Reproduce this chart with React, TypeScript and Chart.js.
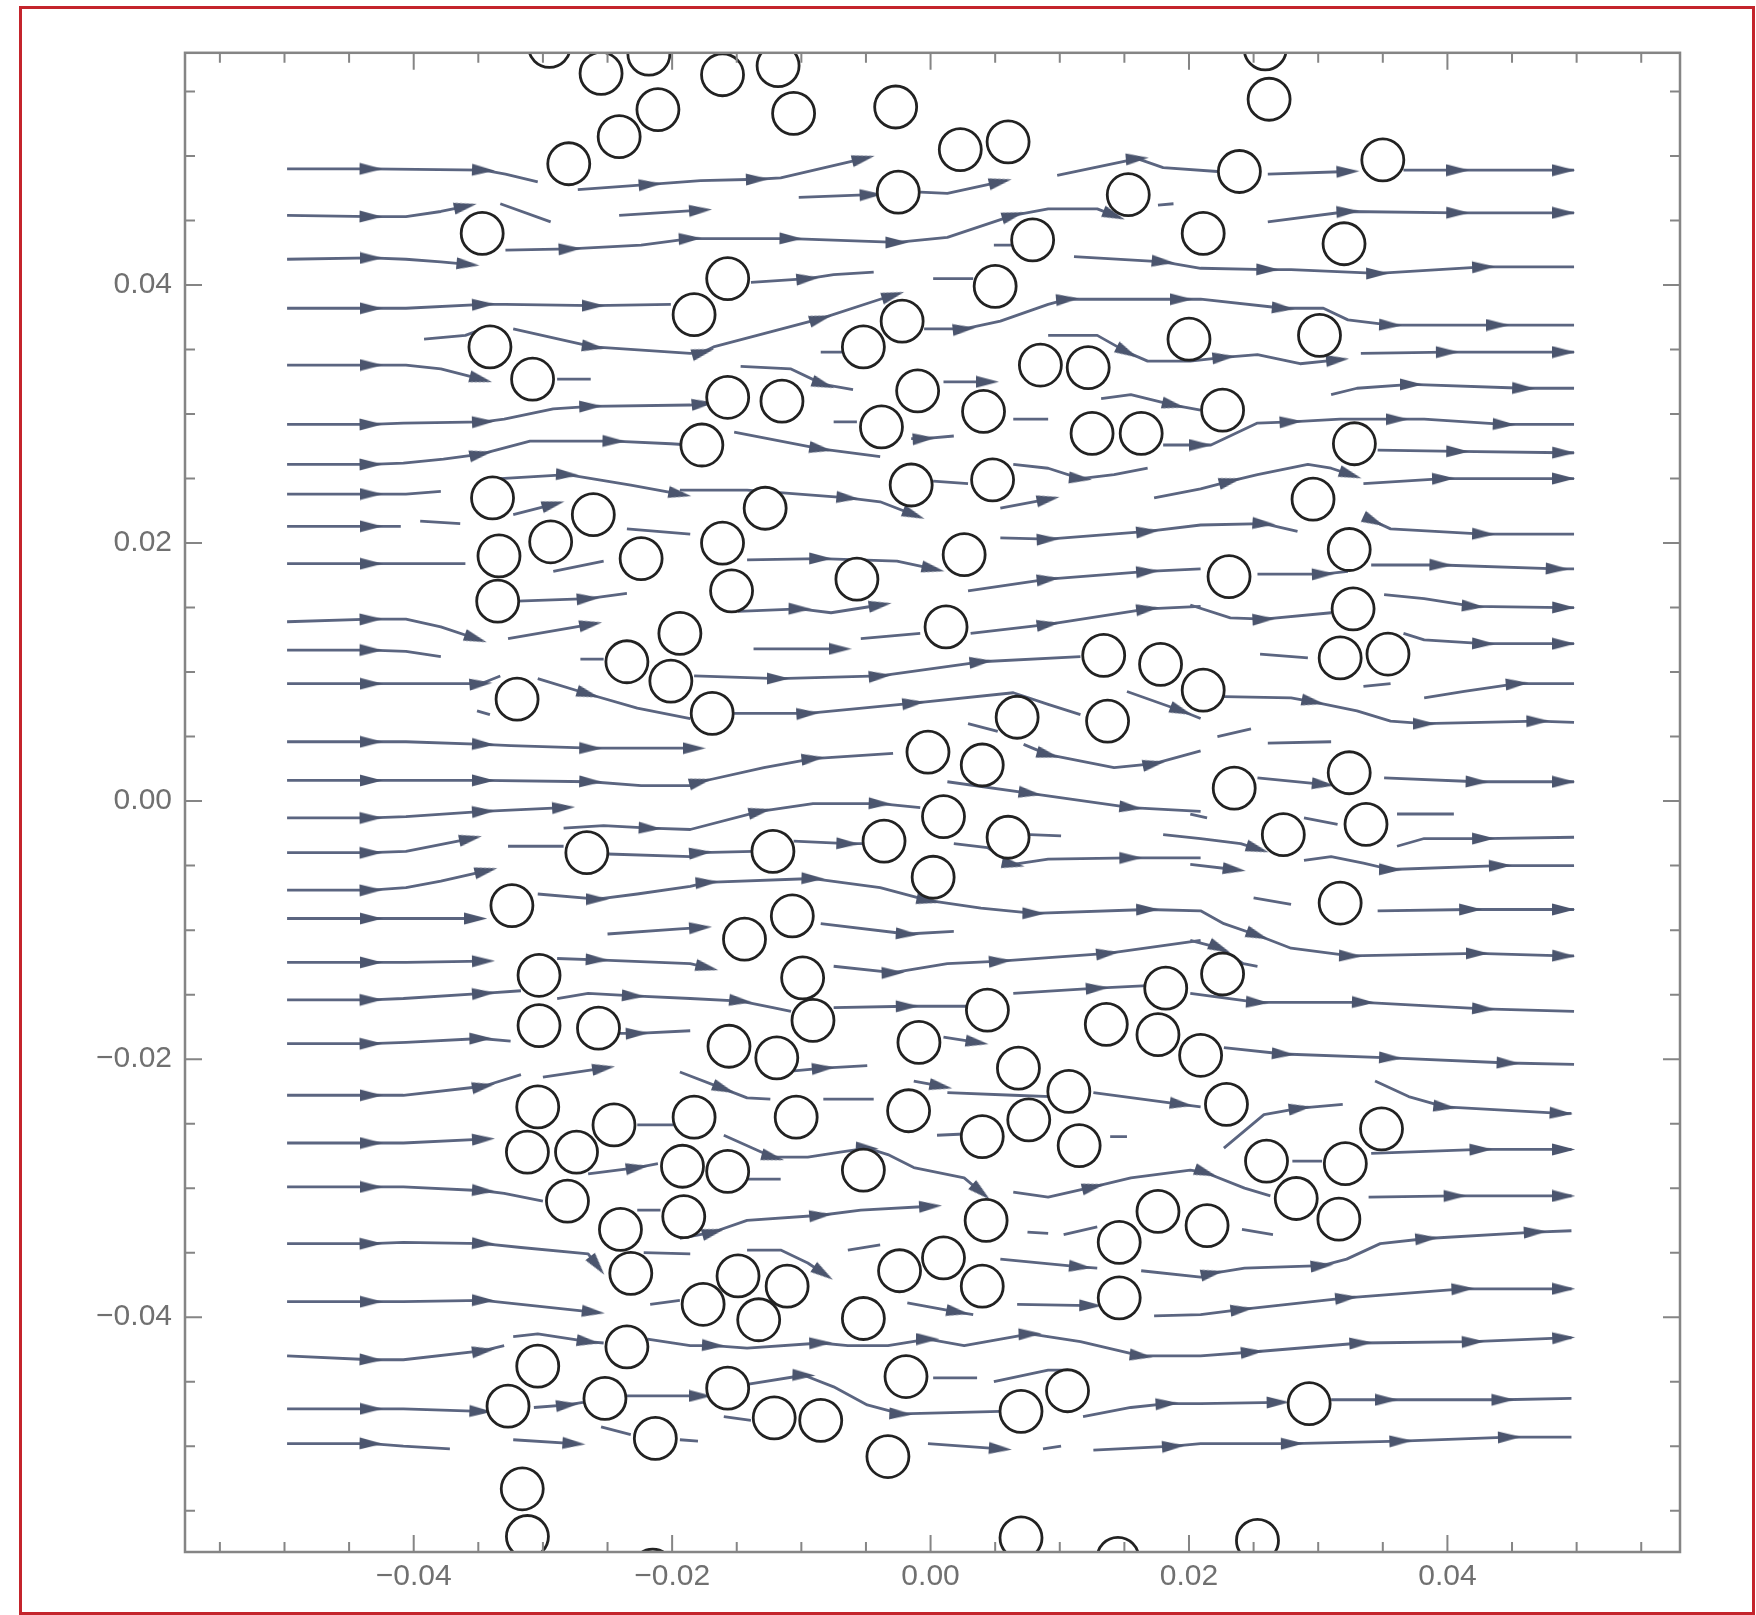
import React, { useEffect, useRef } from 'react';
import { Chart, registerables } from 'chart.js';

Chart.register(...registerables);

// ---- axes ----
const X_MIN = -0.0577;
const X_MAX = 0.058;
const Y_MIN = -0.0582;
const Y_MAX = 0.058;
const TICK_LABELS = [-0.04, -0.02, 0, 0.02, 0.04];
const MINOR_STEP = 0.005;

// ---- particles (circle centres) ----
const PARTICLES: number[][] = [
  [-0.0295, 0.0585], [-0.0255, 0.0564], [-0.0218, 0.0579], [-0.0211, 0.0536], [-0.0241, 0.0515],
  [-0.028, 0.0494], [-0.0347, 0.044], [-0.0341, 0.0352], [-0.0308, 0.0327], [-0.0339, 0.0235],
  [-0.0261, 0.0222], [-0.0294, 0.0201], [-0.0334, 0.019], [-0.0224, 0.0188], [-0.0161, 0.0563],
  [-0.0118, 0.057], [-0.0106, 0.0533], [-0.0027, 0.0538], [0.0023, 0.0505], [0.006, 0.0511],
  [-0.0025, 0.0472], [0.0153, 0.047], [0.0079, 0.0435], [-0.0157, 0.0405], [-0.0183, 0.0377],
  [0.005, 0.0399], [-0.0022, 0.0372], [-0.0052, 0.0352], [0.0085, 0.0338], [0.0122, 0.0336],
  [-0.0157, 0.0313], [-0.0115, 0.031], [-0.001, 0.0318], [-0.0038, 0.029], [0.0041, 0.0302],
  [-0.0177, 0.0276], [0.0125, 0.0285], [0.0163, 0.0285], [-0.0128, 0.0227], [-0.0015, 0.0245],
  [0.0048, 0.0249], [-0.0161, 0.02], [0.0026, 0.0191], [0.0259, 0.0583], [0.0262, 0.0544],
  [0.0239, 0.0488], [0.035, 0.0497], [0.0211, 0.044], [0.032, 0.0432], [0.02, 0.0358],
  [0.0301, 0.0361], [0.0226, 0.0303], [0.0328, 0.0277], [0.0296, 0.0234], [0.0324, 0.0195],
  [0.0231, 0.0174], [-0.0335, 0.0155], [-0.0194, 0.013], [-0.0235, 0.0108], [-0.0201, 0.0093],
  [-0.032, 0.0079], [-0.0266, -0.004], [-0.0324, -0.0081], [-0.0303, -0.0135], [-0.0303, -0.0174],
  [-0.0257, -0.0176], [-0.0154, 0.0163], [-0.0057, 0.0172], [0.0012, 0.0135], [-0.0169, 0.0068],
  [0.0134, 0.0113], [0.0178, 0.0106], [0.0211, 0.0086], [0.0067, 0.0065], [0.0137, 0.0062],
  [-0.0002, 0.0038], [0.004, 0.0028], [0.001, -0.0012], [-0.0036, -0.0031], [0.006, -0.0028],
  [-0.0122, -0.0039], [0.0002, -0.0059], [-0.0107, -0.0089], [-0.0144, -0.0107], [-0.0099, -0.0137],
  [0.0182, -0.0145], [-0.0091, -0.017], [0.0044, -0.0162], [0.0136, -0.0173], [0.0176, -0.0181],
  [-0.0156, -0.019], [-0.0119, -0.0199], [-0.0009, -0.0187], [0.0068, -0.0207], [0.0327, 0.0149],
  [0.0317, 0.0111], [0.0354, 0.0114], [0.0235, 0.001], [0.0324, 0.0022], [0.0337, -0.0018],
  [0.0273, -0.0026], [0.0317, -0.0079], [0.0226, -0.0134], [0.0209, -0.0197], [-0.0304, -0.0237],
  [-0.0312, -0.0272], [-0.0274, -0.0272], [-0.0245, -0.0251], [-0.0281, -0.031], [-0.024, -0.0332],
  [-0.0232, -0.0366], [-0.0235, -0.0423], [-0.0304, -0.0438], [-0.0327, -0.0469], [-0.0252, -0.0463],
  [-0.0213, -0.0494], [-0.0316, -0.0533], [-0.0312, -0.057], [-0.0215, -0.0596], [0.0107, -0.0225],
  [-0.0183, -0.0245], [-0.0104, -0.0245], [-0.0017, -0.024], [0.0076, -0.0247], [0.004, -0.026],
  [0.0115, -0.0267], [-0.0192, -0.0283], [-0.0157, -0.0287], [-0.0052, -0.0286], [-0.0191, -0.0322],
  [0.0043, -0.0325], [0.0176, -0.0318], [0.0146, -0.0342], [-0.0149, -0.0368], [-0.0111, -0.0376],
  [-0.0176, -0.039], [-0.0133, -0.0402], [-0.0024, -0.0364], [0.001, -0.0354], [0.004, -0.0376],
  [0.0146, -0.0385], [-0.0052, -0.0401], [-0.0019, -0.0446], [-0.0157, -0.0455], [-0.0121, -0.0478],
  [-0.0085, -0.048], [0.007, -0.0473], [0.0106, -0.0457], [-0.0033, -0.0508], [0.007, -0.0571],
  [0.0145, -0.0587], [0.0229, -0.0235], [0.0349, -0.0254], [0.026, -0.0279], [0.0321, -0.0281],
  [0.0283, -0.0308], [0.0316, -0.0324], [0.0214, -0.0329], [0.0293, -0.0467], [0.0253, -0.0573],
];

// ---- streamlines: each point [x, y] or [x, y, 1] (1 = arrowhead at that point) ----
const STREAMLINES: number[][][] = [
  [[-0.0498,0.049],[-0.0433,0.049,1],[-0.0346,0.0489,1],[-0.0329,0.0486],[-0.0304,0.048]],
  [[-0.0273,0.0474],[-0.0217,0.0478,1],[-0.0178,0.0481],[-0.0134,0.0482,1],[-0.0116,0.0483],[-0.0052,0.0498,1]],
  [[-0.0102,0.0468],[-0.0046,0.047,1]],
  [[-0.0008,0.0472],[0.0013,0.0471],[0.0054,0.048,1]],
  [[0.0098,0.0485],[0.016,0.0498,1],[0.018,0.0491],[0.0222,0.0488]],
  [[0.0261,0.0486],[0.0323,0.0488,1]],
  [[0.0366,0.0489],[0.0408,0.0489,1],[0.049,0.0489,1],[0.0498,0.0489]],
  [[-0.0498,0.0454],[-0.0433,0.0453,1],[-0.0406,0.0453],[-0.0379,0.0457],[-0.036,0.0461,1]],
  [[-0.0333,0.0463],[-0.0294,0.0449]],
  [[-0.0241,0.0454],[-0.0178,0.0458,1]],
  [[0.0261,0.0449],[0.0323,0.0457,1],[0.0408,0.0456,1],[0.049,0.0456,1],[0.0498,0.0456]],
  [[-0.0498,0.042],[-0.0433,0.0421,1],[-0.0406,0.042],[-0.0379,0.0418],[-0.0358,0.0416,1]],
  [[-0.0329,0.0427],[-0.0279,0.0428,1],[-0.0224,0.0431],[-0.0186,0.0436,1],[-0.0108,0.0436,1],[-0.0026,0.0433,1],[0.0013,0.0437],[0.0064,0.0454,1],[0.0091,0.0459],[0.0129,0.0459],[0.0142,0.0454,1]],
  [[0.0176,0.0462],[0.0188,0.0463]],
  [[0.0049,0.0431],[0.0064,0.0431]],
  [[0.0111,0.0422],[0.018,0.0418,1],[0.0209,0.0413],[0.0261,0.0412,1],[0.0279,0.0412],[0.0346,0.0409,1],[0.0428,0.0414,1],[0.0498,0.0414]],
  [[-0.0498,0.0382],[-0.0433,0.0382,1],[-0.0406,0.0382],[-0.0346,0.0385,1],[-0.0329,0.0385],[-0.0261,0.0384,1],[-0.0201,0.0385]],
  [[-0.0139,0.0402],[-0.0095,0.0405,1],[-0.0075,0.0408],[-0.0044,0.041]],
  [[0.0002,0.0405],[0.0033,0.0405]],
  [[-0.0392,0.0358],[-0.036,0.0361],[-0.0341,0.0368]],
  [[-0.0323,0.0366],[-0.0261,0.0352,1],[-0.0186,0.0347],[-0.0176,0.0348,1],[-0.0168,0.0352],[-0.0085,0.0374,1],[-0.0039,0.0389],[-0.0029,0.0392,1]],
  [[-0.0005,0.0366],[0.0026,0.0366,1],[0.0054,0.0372],[0.0091,0.0385],[0.0106,0.0389,1],[0.0142,0.0389],[0.0194,0.0389,1],[0.0209,0.0389],[0.0273,0.0382,1],[0.0304,0.0382],[0.0323,0.0373],[0.0356,0.0369,1],[0.0439,0.0369,1],[0.0498,0.0369]],
  [[-0.0498,0.0338],[-0.0433,0.0338,1],[-0.0406,0.0338],[-0.0379,0.0335],[-0.0348,0.0327,1]],
  [[-0.0289,0.0327],[-0.0263,0.0327]],
  [[-0.0085,0.0348],[-0.0067,0.0348]],
  [[0.0091,0.0361],[0.0129,0.0361],[0.0152,0.0348,1],[0.0168,0.0341],[0.0201,0.0341],[0.0227,0.0344,1],[0.0253,0.0346],[0.0286,0.0339],[0.0315,0.0342,1]],
  [[0.0333,0.0347],[0.04,0.0348,1],[0.049,0.0348,1],[0.0498,0.0348]],
  [[-0.0147,0.0337],[-0.0108,0.0335],[-0.0083,0.0323,1],[-0.006,0.0319]],
  [[-0.0498,0.0292],[-0.0433,0.0292,1],[-0.0408,0.0293],[-0.0346,0.0294,1],[-0.033,0.0296],[-0.0292,0.0304],[-0.0263,0.0306,1],[-0.0186,0.0307],[-0.0176,0.0308,1]],
  [[0.001,0.0325],[0.0044,0.0325,1]],
  [[0.0132,0.0312],[0.0155,0.0315],[0.0188,0.0307,1],[0.0209,0.0303]],
  [[0.031,0.0315],[0.033,0.032],[0.0372,0.0323,1],[0.0459,0.032,1],[0.0498,0.032]],
  [[-0.0498,0.0261],[-0.0433,0.0261,1],[-0.0408,0.0262],[-0.0377,0.0265],[-0.0348,0.0269,1],[-0.031,0.0279],[-0.0245,0.0279,1],[-0.0201,0.0277],[-0.0186,0.0276]],
  [[-0.0152,0.0286],[-0.0085,0.0273,1],[-0.0039,0.0267]],
  [[-0.0075,0.0294],[-0.0057,0.0294]],
  [[-0.0015,0.0281],[-0.0005,0.0281,1],[0.0018,0.0283]],
  [[0.0064,0.0296],[0.0091,0.0296]],
  [[0.018,0.0276],[0.0209,0.0276,1],[0.0217,0.0276],[0.0253,0.0293],[0.0279,0.0294,1],[0.0317,0.0296],[0.0361,0.0296,1],[0.0382,0.0296],[0.0444,0.0292,1],[0.0498,0.0292]],
  [[0.0346,0.0272],[0.0408,0.0271,1],[0.049,0.027,1],[0.0498,0.027]],
  [[-0.0333,0.025],[-0.0281,0.0253,1],[-0.0232,0.0245],[-0.0194,0.0238,1]],
  [[-0.0498,0.0238],[-0.0433,0.0238,1],[-0.0406,0.0238],[-0.0379,0.024]],
  [[-0.0194,0.0241],[-0.0142,0.0241],[-0.0064,0.0235,1],[-0.0039,0.0232],[-0.0013,0.0222,1]],
  [[0.0002,0.0248],[0.0029,0.0246]],
  [[0.0064,0.0261],[0.0091,0.0258],[0.0116,0.025,1],[0.0142,0.0253],[0.0168,0.0258]],
  [[0.0054,0.0227],[0.0091,0.0234,1]],
  [[0.0173,0.0235],[0.0209,0.0242],[0.0232,0.0248,1],[0.0253,0.0253],[0.0292,0.0261],[0.031,0.0258],[0.0325,0.0253,1]],
  [[0.0335,0.0246],[0.0397,0.025,1],[0.049,0.025,1],[0.0498,0.025]],
  [[-0.0498,0.0213],[-0.0433,0.0213,1],[-0.041,0.0213]],
  [[-0.0395,0.0217],[-0.0364,0.0215]],
  [[-0.0323,0.0222],[-0.0292,0.023,1]],
  [[-0.0235,0.0211],[-0.0186,0.0207]],
  [[0.0054,0.0204],[0.0091,0.0203,1],[0.0168,0.0209,1],[0.0209,0.0214],[0.0258,0.0215,1],[0.0284,0.0209]],
  [[0.0343,0.0217,1],[0.0356,0.0211],[0.0428,0.0207,1],[0.0498,0.0207]],
  [[-0.0498,0.0184],[-0.0433,0.0184,1],[-0.0406,0.0184],[-0.036,0.0184]],
  [[-0.0292,0.0178],[-0.0253,0.0186]],
  [[-0.0142,0.0187],[-0.0085,0.0188,1],[-0.0026,0.0186],[0.0002,0.018,1]],
  [[0.0253,0.0176],[0.0304,0.0176,1],[0.0323,0.0178]],
  [[0.0341,0.0183],[0.0395,0.0183,1],[0.0485,0.018,1],[0.0498,0.018]],
  [[-0.032,0.0155],[-0.0265,0.0157,1],[-0.0235,0.0161]],
  [[0.0029,0.0163],[0.0091,0.0172,1],[0.0168,0.0178,1],[0.0209,0.018]],
  [[-0.0149,0.0147],[-0.0101,0.0149,1],[-0.0077,0.0146],[-0.0039,0.0152,1]],
  [[0.0201,0.0152],[0.0232,0.0142],[0.0258,0.0141,1],[0.031,0.0146]],
  [[0.0351,0.016],[0.0382,0.0157],[0.042,0.0151,1],[0.049,0.015,1],[0.0498,0.015]],
  [[-0.0498,0.0139],[-0.0433,0.0141,1],[-0.0406,0.0141],[-0.0379,0.0135],[-0.0352,0.0126,1]],
  [[-0.0327,0.0126],[-0.0263,0.0137,1]],
  [[-0.0054,0.0126],[-0.0008,0.013]],
  [[0.0031,0.013],[0.0091,0.0137,1],[0.0168,0.0149,1],[0.0209,0.0151]],
  [[-0.0137,0.0118],[-0.007,0.0118,1]],
  [[-0.0498,0.0117],[-0.0433,0.0117,1],[-0.0406,0.0116],[-0.0379,0.0112]],
  [[-0.0271,0.011],[-0.0253,0.011]],
  [[0.0255,0.0114],[0.0292,0.0111]],
  [[0.0366,0.013],[0.0382,0.0125],[0.0428,0.0122,1],[0.049,0.0122,1],[0.0498,0.0122]],
  [[-0.0498,0.0091],[-0.0433,0.0091,1],[-0.0406,0.0091],[-0.0348,0.0091,1],[-0.0333,0.0097]],
  [[-0.0304,0.0095],[-0.0265,0.0083,1],[-0.0227,0.0072],[-0.0186,0.0064]],
  [[-0.0183,0.0097],[-0.0118,0.0095,1],[-0.0039,0.0097,1],[0.0039,0.0108,1],[0.0116,0.0112]],
  [[0.0335,0.0089],[0.0356,0.0091]],
  [[0.0382,0.008],[0.0413,0.0085],[0.0454,0.0091,1],[0.0498,0.0091]],
  [[-0.0351,0.007],[-0.0341,0.0067]],
  [[-0.0152,0.0068],[-0.0095,0.0068,1],[-0.0013,0.0076,1],[0.0064,0.0084],[0.0091,0.0075],[0.0116,0.0067]],
  [[0.0152,0.0085],[0.0194,0.007,1],[0.0209,0.0064]],
  [[0.0227,0.0081],[0.0279,0.008],[0.0296,0.0077,1],[0.033,0.007],[0.0356,0.0062],[0.0382,0.006,1],[0.047,0.0062,1],[0.0498,0.0061]],
  [[0.0029,0.006],[0.0052,0.0054]],
  [[-0.0498,0.0046],[-0.0433,0.0046,1],[-0.0406,0.0046],[-0.0346,0.0044,1],[-0.0325,0.0043],[-0.0263,0.0041,1],[-0.0183,0.0041,1]],
  [[-0.0498,0.0016],[-0.0433,0.0016,1],[-0.0406,0.0016],[-0.0346,0.0016,1],[-0.0263,0.0015,1],[-0.0224,0.0012],[-0.0186,0.0012],[-0.0178,0.0015,1],[-0.0129,0.0026],[-0.0091,0.0033,1],[-0.0029,0.0037]],
  [[0.0072,0.0044],[0.0091,0.0036,1],[0.0142,0.0026],[0.0173,0.0029,1],[0.0209,0.0039]],
  [[0.0222,0.005],[0.0248,0.0056]],
  [[0.0261,0.0045],[0.031,0.0046]],
  [[0.0013,0.0015],[0.0077,0.0006,1],[0.0155,-0.0005,1],[0.0209,-0.0008]],
  [[0.0253,0.0018],[0.0304,0.0013,1]],
  [[0.0351,0.0018],[0.0423,0.0015,1],[0.049,0.0015,1],[0.0498,0.0015]],
  [[-0.0498,-0.0013],[-0.0433,-0.0013,1],[-0.0406,-0.0012],[-0.0346,-0.0008,1],[-0.0284,-0.0005,1]],
  [[-0.0284,-0.0021],[-0.0253,-0.0019],[-0.0217,-0.0021,1],[-0.0186,-0.0022],[-0.0132,-0.0008,1],[-0.0091,-0.0002],[-0.0039,-0.0002,1],[-0.0008,-0.0005]],
  [[0.0201,-0.001],[0.0214,-0.0013]],
  [[0.0289,-0.0013],[0.0315,-0.0018]],
  [[0.0361,-0.001],[0.0405,-0.001]],
  [[-0.0498,-0.004],[-0.0433,-0.004,1],[-0.0406,-0.0039],[-0.0356,-0.0029,1]],
  [[-0.0327,-0.0035],[-0.0284,-0.0035]],
  [[-0.025,-0.0041],[-0.0186,-0.0043],[-0.0178,-0.004,1],[-0.0137,-0.0039]],
  [[-0.0106,-0.0031],[-0.0064,-0.0033,1],[-0.0049,-0.0033]],
  [[0.0018,-0.0033],[0.0044,-0.0036],[0.0064,-0.0049,1],[0.0091,-0.0045],[0.0155,-0.0044,1],[0.0209,-0.0044]],
  [[0.0077,-0.0026],[0.0101,-0.0027]],
  [[0.018,-0.0026],[0.0209,-0.0029],[0.024,-0.0033],[0.0253,-0.0037,1]],
  [[0.0361,-0.0035],[0.0382,-0.0029],[0.0428,-0.0029,1],[0.0498,-0.0028]],
  [[-0.0498,-0.0069],[-0.0433,-0.0069,1],[-0.0406,-0.0067],[-0.0379,-0.0062],[-0.0344,-0.0054,1]],
  [[-0.0304,-0.0072],[-0.0258,-0.0076,1],[-0.0227,-0.0072],[-0.0186,-0.0066],[-0.0173,-0.0063,1],[-0.0091,-0.006,1],[-0.0039,-0.0067],[-0.0002,-0.0077,1],[0.0039,-0.0083],[0.008,-0.0087,1],[0.0168,-0.0084,1],[0.0209,-0.0085],[0.0227,-0.0095],[0.0253,-0.0104,1],[0.0279,-0.0114],[0.0325,-0.012,1],[0.0423,-0.0118,1],[0.049,-0.012,1],[0.0498,-0.012]],
  [[0.0201,-0.0049],[0.0235,-0.0053,1]],
  [[0.0289,-0.0046],[0.031,-0.0043],[0.0335,-0.0048],[0.0356,-0.0053,1],[0.0441,-0.005,1],[0.0498,-0.005]],
  [[0.025,-0.0075],[0.0279,-0.008]],
  [[0.0346,-0.0085],[0.0418,-0.0084,1],[0.049,-0.0084,1],[0.0498,-0.0084]],
  [[-0.0498,-0.0091],[-0.0433,-0.0091,1],[-0.0406,-0.0091],[-0.0352,-0.0091,1]],
  [[-0.025,-0.0103],[-0.0194,-0.0099],[-0.0178,-0.0098,1]],
  [[-0.0085,-0.0095],[-0.0018,-0.0103,1],[0.0018,-0.0101]],
  [[0.0201,-0.0108],[0.0224,-0.0114,1],[0.0242,-0.0126],[0.0253,-0.0128]],
  [[-0.0498,-0.0125],[-0.0433,-0.0125,1],[-0.0406,-0.0125],[-0.0346,-0.0124,1]],
  [[-0.0289,-0.0122],[-0.0258,-0.0123,1],[-0.0186,-0.0126],[-0.0173,-0.0129,1]],
  [[-0.0075,-0.0128],[-0.0029,-0.0133,1],[0.0013,-0.0126],[0.0054,-0.0124,1],[0.0137,-0.0118,1],[0.0209,-0.0108]],
  [[-0.0498,-0.0154],[-0.0433,-0.0154,1],[-0.0408,-0.0153],[-0.0346,-0.0149,1],[-0.0317,-0.0147]],
  [[-0.0289,-0.0153],[-0.0265,-0.0149],[-0.023,-0.0151,1],[-0.0186,-0.0153],[-0.0147,-0.0155,1],[-0.0122,-0.016],[-0.0108,-0.0163]],
  [[-0.0075,-0.016],[-0.0018,-0.0159,1],[0.0029,-0.0159]],
  [[0.0064,-0.0149],[0.0129,-0.0145,1],[0.0168,-0.0143]],
  [[0.0201,-0.0149],[0.0253,-0.0156,1],[0.0335,-0.0156,1],[0.0428,-0.0161,1],[0.0498,-0.0163]],
  [[-0.0498,-0.0188],[-0.0433,-0.0188,1],[-0.0406,-0.0187],[-0.0348,-0.0184,1],[-0.0325,-0.0186]],
  [[-0.0242,-0.018],[-0.0227,-0.018,1],[-0.0186,-0.0178]],
  [[0.001,-0.0183],[0.0036,-0.0187,1]],
  [[0.0227,-0.0191],[0.0273,-0.0196,1],[0.0356,-0.0199,1],[0.0447,-0.0203,1],[0.0498,-0.0204]],
  [[-0.0498,-0.0228],[-0.0433,-0.0228,1],[-0.0408,-0.0228],[-0.0346,-0.0221,1],[-0.0317,-0.0212]],
  [[-0.03,-0.0214],[-0.0253,-0.0207,1]],
  [[-0.0194,-0.021],[-0.016,-0.0223,1],[-0.0142,-0.023],[-0.0124,-0.0231]],
  [[-0.0116,-0.021],[-0.0083,-0.0207,1],[-0.0049,-0.0205]],
  [[-0.0083,-0.0231],[-0.0044,-0.0231]],
  [[-0.0013,-0.0217],[0.0008,-0.0221,1]],
  [[0.0013,-0.0226],[0.0064,-0.0228],[0.0093,-0.0229]],
  [[0.0126,-0.0226],[0.0194,-0.0235,1],[0.0209,-0.0237]],
  [[0.0344,-0.0217],[0.037,-0.0229],[0.0398,-0.0237,1],[0.0488,-0.0242,1],[0.0496,-0.0242]],
  [[0.0227,-0.0269],[0.0258,-0.0243],[0.0286,-0.0238,1],[0.0319,-0.0235]],
  [[-0.0498,-0.0265],[-0.0433,-0.0265,1],[-0.0408,-0.0265],[-0.0346,-0.0262,1]],
  [[-0.0227,-0.0251],[-0.0199,-0.0251]],
  [[0.0005,-0.0259],[0.0026,-0.0258]],
  [[0.0139,-0.026],[0.0152,-0.026]],
  [[-0.016,-0.0259],[-0.0122,-0.0276,1],[-0.0095,-0.0276],[-0.007,-0.0272],[-0.0049,-0.0269,1],[-0.0033,-0.0274],[-0.0013,-0.0284],[0.0026,-0.0292],[0.0039,-0.0303,1]],
  [[-0.0142,-0.0293],[-0.0116,-0.0293]],
  [[0.028,-0.0279],[0.0303,-0.0279]],
  [[0.0341,-0.0273],[0.0426,-0.027,1],[0.049,-0.027,1],[0.0496,-0.027]],
  [[-0.0498,-0.0299],[-0.0433,-0.0299,1],[-0.0408,-0.0299],[-0.0346,-0.0302,1],[-0.033,-0.0304],[-0.03,-0.031]],
  [[-0.0265,-0.0289],[-0.0227,-0.0284,1],[-0.0211,-0.0281]],
  [[-0.0227,-0.0317],[-0.0209,-0.0317]],
  [[0.0064,-0.0303],[0.0091,-0.0307],[0.0126,-0.0299,1],[0.0155,-0.0292],[0.0201,-0.0286],[0.0213,-0.0288,1],[0.0243,-0.03],[0.0263,-0.0306]],
  [[0.0339,-0.0307],[0.0406,-0.0306,1],[0.049,-0.0306,1],[0.0496,-0.0306]],
  [[-0.0194,-0.0339],[-0.0168,-0.0334,1],[-0.0142,-0.0325],[-0.0085,-0.0321,1],[-0.0054,-0.0317],[0,-0.0314,1]],
  [[0.0075,-0.0334],[0.0091,-0.0335]],
  [[0.0103,-0.0336],[0.0129,-0.033]],
  [[0.0241,-0.0332],[0.0265,-0.0336]],
  [[-0.0498,-0.0343],[-0.0433,-0.0343,1],[-0.0408,-0.0342],[-0.0346,-0.0343,1],[-0.0317,-0.0346],[-0.0265,-0.0351],[-0.0258,-0.036,1]],
  [[-0.0222,-0.035],[-0.0186,-0.0351]],
  [[-0.0142,-0.0348],[-0.0116,-0.0348],[-0.0095,-0.0358],[-0.0083,-0.0366,1]],
  [[-0.0064,-0.0348],[-0.0039,-0.0344]],
  [[0.0054,-0.0355],[0.0116,-0.0361,1],[0.0129,-0.0362]],
  [[0.0163,-0.0364],[0.0209,-0.0369],[0.0218,-0.0366,1],[0.0243,-0.0362],[0.0303,-0.036,1],[0.0322,-0.0355],[0.0348,-0.0343],[0.0384,-0.0339,1],[0.0468,-0.0334,1],[0.0496,-0.0333]],
  [[-0.0498,-0.0388],[-0.0433,-0.0388,1],[-0.0408,-0.0388],[-0.0346,-0.0387,1],[-0.0317,-0.039],[-0.0261,-0.0396,1]],
  [[-0.0217,-0.039],[-0.0194,-0.0387]],
  [[-0.0018,-0.0389],[0.0021,-0.0396,1],[0.0033,-0.0398]],
  [[0.0067,-0.039],[0.0124,-0.0391,1]],
  [[0.0173,-0.0399],[0.0209,-0.0398],[0.0241,-0.0394,1],[0.0322,-0.0385,1],[0.0412,-0.0378,1],[0.049,-0.0378,1],[0.0496,-0.0378]],
  [[-0.0219,-0.0417],[-0.0186,-0.0422],[-0.0168,-0.0422,1],[-0.0142,-0.0424],[-0.0085,-0.042,1],[-0.0064,-0.0422],[-0.0033,-0.0422],[-0.0002,-0.0417,1],[0.0026,-0.0422],[0.0077,-0.0413,1],[0.0116,-0.0419],[0.0163,-0.043,1],[0.0209,-0.043],[0.0249,-0.0427,1],[0.0333,-0.042,1],[0.042,-0.0419,1],[0.049,-0.0416,1],[0.0496,-0.0416]],
  [[-0.0498,-0.043],[-0.0433,-0.0433,1],[-0.0408,-0.0433],[-0.0346,-0.0426,1],[-0.033,-0.0422]],
  [[-0.0323,-0.0415],[-0.0304,-0.0413],[-0.0265,-0.0419,1],[-0.0253,-0.042]],
  [[-0.0498,-0.0471],[-0.0433,-0.0471,1],[-0.0408,-0.0471],[-0.0348,-0.0473,1]],
  [[-0.0307,-0.047],[-0.0281,-0.0468,1],[-0.0269,-0.0466]],
  [[-0.0235,-0.0461],[-0.0178,-0.0461,1]],
  [[-0.0142,-0.0452],[-0.0098,-0.0445,1],[-0.0075,-0.0454],[-0.0049,-0.0468],[-0.0023,-0.0475,1],[0.0054,-0.0473]],
  [[-0.016,-0.0477],[-0.0139,-0.048]],
  [[0.0002,-0.0447],[0.0036,-0.0447]],
  [[0.0049,-0.045],[0.0091,-0.0441],[0.0106,-0.0441]],
  [[0.0118,-0.0477],[0.0155,-0.047],[0.0183,-0.0467,1],[0.0209,-0.0467],[0.0269,-0.0466,1]],
  [[0.031,-0.0464],[0.0353,-0.0464,1],[0.0443,-0.0464,1],[0.0496,-0.0463]],
  [[-0.0498,-0.0498],[-0.0433,-0.0498,1],[-0.0408,-0.05],[-0.0372,-0.0502]],
  [[-0.0323,-0.0495],[-0.0276,-0.0498,1]],
  [[-0.0255,-0.0485],[-0.0232,-0.0491]],
  [[-0.0194,-0.0495],[-0.018,-0.0496]],
  [[-0.0002,-0.0498],[0.0054,-0.0502,1]],
  [[0.0087,-0.0502],[0.0101,-0.05]],
  [[0.0126,-0.0503],[0.0188,-0.05,1],[0.0209,-0.0498],[0.028,-0.0498,1],[0.0364,-0.0496,1],[0.0448,-0.0493,1],[0.0496,-0.0493]],
];

const STREAM_COLOR = '#5b6580';
const ARROW_COLOR = '#4b556e';
const CIRCLE_COLOR = '#222222';
const FRAME_COLOR = '#858585';
const LABEL_COLOR = '#707070';
const FONT_FAMILY = "'Liberation Sans', Arial, sans-serif";

function formatTick(v: number): string {
  const s = Math.abs(v).toFixed(2);
  return v < -1e-9 ? '\u2212' + s : s;
}

function makeArrowImage(): HTMLCanvasElement {
  const c = document.createElement('canvas');
  c.width = 23;
  c.height = 13;
  const g = c.getContext('2d')!;
  g.fillStyle = ARROW_COLOR;
  g.beginPath();
  g.moveTo(0, 0.5);
  g.lineTo(23, 6.5);
  g.lineTo(0, 12.5);
  g.closePath();
  g.fill();
  return c;
}

const framePlugin = {
  id: 'mmaFrame',
  afterDatasetsDraw(chart: any) {
    const { ctx, chartArea: a, scales } = chart;
    const xs = scales.x;
    const ys = scales.y;
    ctx.save();
    ctx.strokeStyle = FRAME_COLOR;
    ctx.lineWidth = 2.5;
    ctx.strokeRect(a.left, a.top, a.right - a.left, a.bottom - a.top);
    ctx.lineWidth = 2;
    ctx.beginPath();
    for (let k = -11; k <= 11; k++) {
      const v = k * MINOR_STEP;
      const len = k % 4 === 0 ? 17 : 10;
      const px = xs.getPixelForValue(v);
      const py = ys.getPixelForValue(v);
      ctx.moveTo(px, a.bottom);
      ctx.lineTo(px, a.bottom - len);
      ctx.moveTo(px, a.top);
      ctx.lineTo(px, a.top + len);
      ctx.moveTo(a.left, py);
      ctx.lineTo(a.left + len, py);
      ctx.moveTo(a.right, py);
      ctx.lineTo(a.right - len, py);
    }
    ctx.stroke();
    ctx.restore();
  },
};

export default function App() {
  const ref = useRef<HTMLCanvasElement>(null);

  useEffect(() => {
    const canvas = ref.current;
    if (!canvas) return;
    const arrowImg = makeArrowImage();

    const arrowPts: { x: number; y: number }[] = [];
    const arrowRot: number[] = [];
    STREAMLINES.forEach((path) => {
      path.forEach((p, i) => {
        if (p[2]) {
          const a = path[Math.max(0, i - 1)];
          const b = path[Math.min(path.length - 1, i + 1)];
          arrowPts.push({ x: p[0], y: p[1] });
          arrowRot.push((Math.atan2(-(b[1] - a[1]), b[0] - a[0]) * 180) / Math.PI);
        }
      });
    });

    const lineSets = STREAMLINES.map((path) => ({
      type: 'scatter' as const,
      data: path.map((p) => ({ x: p[0], y: p[1] })),
      showLine: true,
      borderColor: STREAM_COLOR,
      borderWidth: 2.8,
      borderJoinStyle: 'round' as const,
      borderCapStyle: 'butt' as const,
      pointRadius: 0,
      pointHoverRadius: 0,
      fill: false,
      order: 3,
    }));

    const chart = new Chart(canvas, {
      type: 'scatter',
      data: {
        datasets: [
          {
            data: PARTICLES.map((p) => ({ x: p[0], y: p[1] })),
            pointStyle: 'circle',
            pointRadius: 21,
            pointHoverRadius: 50,
            pointBorderWidth: 2.8,
            pointBorderColor: CIRCLE_COLOR,
            pointBackgroundColor: '#ffffff',
            clip: 0,
            order: 0,
          } as any,
          {
            data: arrowPts,
            pointStyle: arrowImg,
            pointRotation: arrowRot,
            pointRadius: 6,
            pointHoverRadius: 6,
            order: 1,
          } as any,
          ...(lineSets as any[]),
        ],
      },
      options: {
        responsive: false,
        animation: false,
        devicePixelRatio: 1,
        events: [],
        layout: { padding: { top: 51, right: 76, left: 0, bottom: 0 } },
        plugins: { legend: { display: false }, tooltip: { enabled: false } },
        scales: {
          x: {
            type: 'linear',
            position: 'bottom',
            min: X_MIN,
            max: X_MAX,
            grid: { display: false, drawTicks: false },
            border: { display: false },
            ticks: {
              padding: 7,
              color: LABEL_COLOR,
              font: { family: FONT_FAMILY, size: 30 },
              maxRotation: 0,
              autoSkip: false,
              callback: (v: any) => formatTick(Number(v)),
            },
            afterBuildTicks: (axis: any) => {
              axis.ticks = TICK_LABELS.map((value) => ({ value }));
            },
            afterFit: (axis: any) => {
              axis.height = 63;
            },
          },
          y: {
            type: 'linear',
            position: 'left',
            min: Y_MIN,
            max: Y_MAX,
            grid: { display: false, drawTicks: false },
            border: { display: false },
            ticks: {
              padding: 13,
              color: LABEL_COLOR,
              font: { family: FONT_FAMILY, size: 30 },
              autoSkip: false,
              callback: (v: any) => formatTick(Number(v)),
            },
            afterBuildTicks: (axis: any) => {
              axis.ticks = TICK_LABELS.map((value) => ({ value }));
            },
            afterFit: (axis: any) => {
              axis.width = 185;
            },
          },
        },
      },
      plugins: [framePlugin],
    } as any);

    return () => chart.destroy();
  }, []);

  return (
    <div
      style={{
        position: 'absolute',
        left: 0,
        top: 0,
        width: 1756,
        height: 1615,
        background: '#ffffff',
        overflow: 'hidden',
      }}
    >
      <canvas
        ref={ref}
        width={1756}
        height={1615}
        style={{ position: 'absolute', left: 0, top: 0, width: 1756, height: 1615 }}
      />
      <div
        style={{
          position: 'absolute',
          left: 19,
          top: 6,
          width: 1736,
          height: 1609,
          border: '3px solid #c4242c',
          boxSizing: 'border-box',
          pointerEvents: 'none',
        }}
      />
    </div>
  );
}
